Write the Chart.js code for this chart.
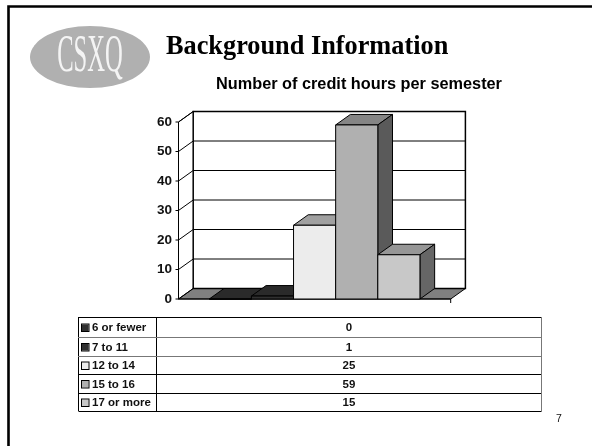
<!DOCTYPE html>
<html><head><meta charset="utf-8">
<style>html,body{margin:0;padding:0;background:#fff}canvas{display:block}</style>
<script src="https://cdn.jsdelivr.net/npm/chart.js@4"></script></head>
<body><div style="width:592px;height:446px"><canvas id="c" width="592" height="446"></canvas></div>
<script>
const categories = ['Credit hours'];
const seriesNames = ['6 or fewer','7 to 11','12 to 14','15 to 16','17 or more'];
const series6OrFewer = [0];
const series7To11 = [1];
const series12To14 = [25];
const series15To16 = [59];
const series17OrMore = [15];
const seriesValues = [series6OrFewer, series7To11, series12To14, series15To16, series17OrMore];
const tableValues = ['0','1','25','59','15'];
const yTicks = [0,10,20,30,40,50,60];
const faceColors = ['#303030','#303030','#ececec','#b0b0b0','#c8c8c8'];
const topColors  = ['#2a2a2a','#2a2a2a','#a0a0a0','#858585','#969696'];
const sideColors = ['#222222','#222222','#777777','#5a5a5a','#666666'];
const DX = 14.7, DY = 10.5;
const ARIAL = 'Arial, "Liberation Sans", sans-serif';

function poly(ctx, pts, fill, stroke, lw){
  ctx.beginPath(); pts.forEach((p,i)=> i?ctx.lineTo(p[0],p[1]):ctx.moveTo(p[0],p[1])); ctx.closePath();
  if(fill){ctx.fillStyle=fill;ctx.fill();}
  if(stroke){ctx.strokeStyle=stroke;ctx.lineWidth=lw||1;ctx.stroke();}
}
const slide3d = {
  id:'slide3d',
  beforeDatasetsDraw(chart){
    const {ctx, scales:{x,y}} = chart;
    const L=x.left, R=x.right, y0=y.getPixelForValue(0), top=y.getPixelForValue(60);
    ctx.save();
    poly(ctx,[[L,y0],[R,y0],[R+DX,y0-DY],[L+DX,y0-DY]],'#808080','#000',1);
    ctx.fillStyle='#fff'; ctx.fillRect(L+DX,top-DY,R-L,y0-top);
    ctx.strokeStyle='#000'; ctx.lineWidth=1;
    yTicks.forEach(t=>{
      const p=y.getPixelForValue(t);
      ctx.beginPath();ctx.moveTo(L-3,p);ctx.lineTo(L,p);ctx.lineTo(L+DX,p-DY);ctx.lineTo(R+DX,p-DY);ctx.stroke();
    });
    ctx.lineWidth=1.5;
    ctx.strokeRect(L+DX,top-DY,R-L,y0-top);
    ctx.lineWidth=1;
    ctx.beginPath();ctx.moveTo(L,y0);ctx.lineTo(L,top);ctx.lineTo(L+DX,top-DY);ctx.stroke();
    ctx.beginPath();ctx.moveTo(R,y0);ctx.lineTo(R,y0+4);ctx.stroke();
    ctx.beginPath();ctx.moveTo(L,y0);ctx.lineTo(R,y0);ctx.stroke();
    ctx.restore();
  },
  afterDatasetsDraw(chart){
    const {ctx, scales:{y}} = chart;
    const y0=y.getPixelForValue(0);
    ctx.save();
    chart.data.datasets.forEach((d,i)=>{
      const b=chart.getDatasetMeta(i).data[0];
      const l=b.x-b.width/2, r=b.x+b.width/2, t=b.y;
      poly(ctx,[[l,t],[r,t],[r+DX,t-DY],[l+DX,t-DY]],topColors[i],'#000',1);
      poly(ctx,[[r,t],[r+DX,t-DY],[r+DX,y0-DY],[r,y0]],sideColors[i],'#000',1);
      poly(ctx,[[l,t],[r,t],[r,y0],[l,y0]],faceColors[i],'#000',1);
    });
    ctx.restore();
  },
  afterDraw(chart){
    const {ctx}=chart;
    ctx.save();
    ctx.strokeStyle='#000';ctx.lineWidth=2.6;
    ctx.beginPath();ctx.moveTo(8.5,446);ctx.lineTo(8.5,6.5);ctx.lineTo(592,6.5);ctx.stroke();
    ctx.fillStyle='#b0b0b0';ctx.beginPath();ctx.ellipse(90,57,60,31,0,0,Math.PI*2);ctx.fill();
    ctx.save();ctx.translate(90,71);ctx.scale(0.77,1.65);
    ctx.fillStyle='#f4f4f4';ctx.font='32px "Liberation Serif","Times New Roman",serif';
    ctx.textAlign='center';ctx.textBaseline='alphabetic';ctx.fillText('CSXQ',0,0);ctx.restore();
    ctx.fillStyle='#000';ctx.textAlign='left';ctx.textBaseline='alphabetic';
    ctx.font='bold 26.3px "Liberation Serif","Times New Roman",serif';
    ctx.fillText('Background Information',166,53.5);
    ctx.font='bold 16.3px '+ARIAL;ctx.textAlign='center';
    ctx.fillText('Number of credit hours per semester',359,88.5);
    const tx=[78,156,541], ty=[317,337,356,374,393,411];
    ctx.lineWidth=1;
    ctx.strokeStyle='#000';
    ctx.beginPath();
    ctx.moveTo(tx[0]+.5,ty[0]+.5);ctx.lineTo(tx[2]+.5,ty[0]+.5);
    ctx.moveTo(tx[0]+.5,ty[5]+.5);ctx.lineTo(tx[2]+.5,ty[5]+.5);
    ctx.moveTo(tx[0]+.5,ty[0]);ctx.lineTo(tx[0]+.5,ty[5]);
    ctx.moveTo(tx[1]+.5,ty[0]);ctx.lineTo(tx[1]+.5,ty[5]);
    ctx.moveTo(tx[0],ty[3]+.5);ctx.lineTo(tx[2],ty[3]+.5);
    ctx.moveTo(tx[0],ty[4]+.5);ctx.lineTo(tx[2],ty[4]+.5);
    ctx.stroke();
    ctx.strokeStyle='#777';ctx.beginPath();
    ctx.moveTo(tx[0],ty[1]+.5);ctx.lineTo(tx[2],ty[1]+.5);
    ctx.moveTo(tx[0],ty[2]+.5);ctx.lineTo(tx[2],ty[2]+.5);
    ctx.moveTo(tx[2]+.5,ty[0]);ctx.lineTo(tx[2]+.5,ty[5]+1);
    ctx.stroke();
    seriesNames.forEach((n,i)=>{
      const mid=(ty[i]+ty[i+1])/2+1;
      ctx.fillStyle=faceColors[i];ctx.fillRect(82,mid-3.5,6.5,6.5);
      ctx.strokeStyle='#000';ctx.strokeRect(81.5,mid-4,7.5,7.5);
      ctx.fillStyle='#111';ctx.font='bold 11.5px '+ARIAL;ctx.textAlign='left';ctx.textBaseline='middle';
      ctx.fillText(n,92,mid);
      ctx.textAlign='center';ctx.fillText(tableValues[i],349,mid);
    });
    ctx.font='10.5px '+ARIAL;ctx.textAlign='left';ctx.fillStyle='#111';ctx.fillText('7',556,419);
    ctx.restore();
  }
};
new Chart(document.getElementById('c'),{
  type:'bar',
  data:{labels:categories,datasets:seriesValues.map((v,i)=>({label:seriesNames[i],data:v,backgroundColor:faceColors[i],borderWidth:0}))},
  options:{
    responsive:false,animation:false,
    devicePixelRatio:1,
    layout:{padding:{left:142.5,right:141.3,top:122,bottom:0}},
    plugins:{legend:{display:false},tooltip:{enabled:false}},
    scales:{
      x:{ticks:{display:false},grid:{display:false},border:{display:false},
         afterFit(s){s.height=147;}},
      y:{min:0,max:60,
         ticks:{stepSize:10,color:'#111',font:{family:ARIAL,size:13.5,weight:'bold'},padding:3},
         grid:{display:false,tickLength:3.5},
         border:{display:false},
         afterFit(s){s.width=36;}}
    },
    datasets:{bar:{categoryPercentage:0.774,barPercentage:1}}
  },
  plugins:[slide3d]
});
</script></body></html>
